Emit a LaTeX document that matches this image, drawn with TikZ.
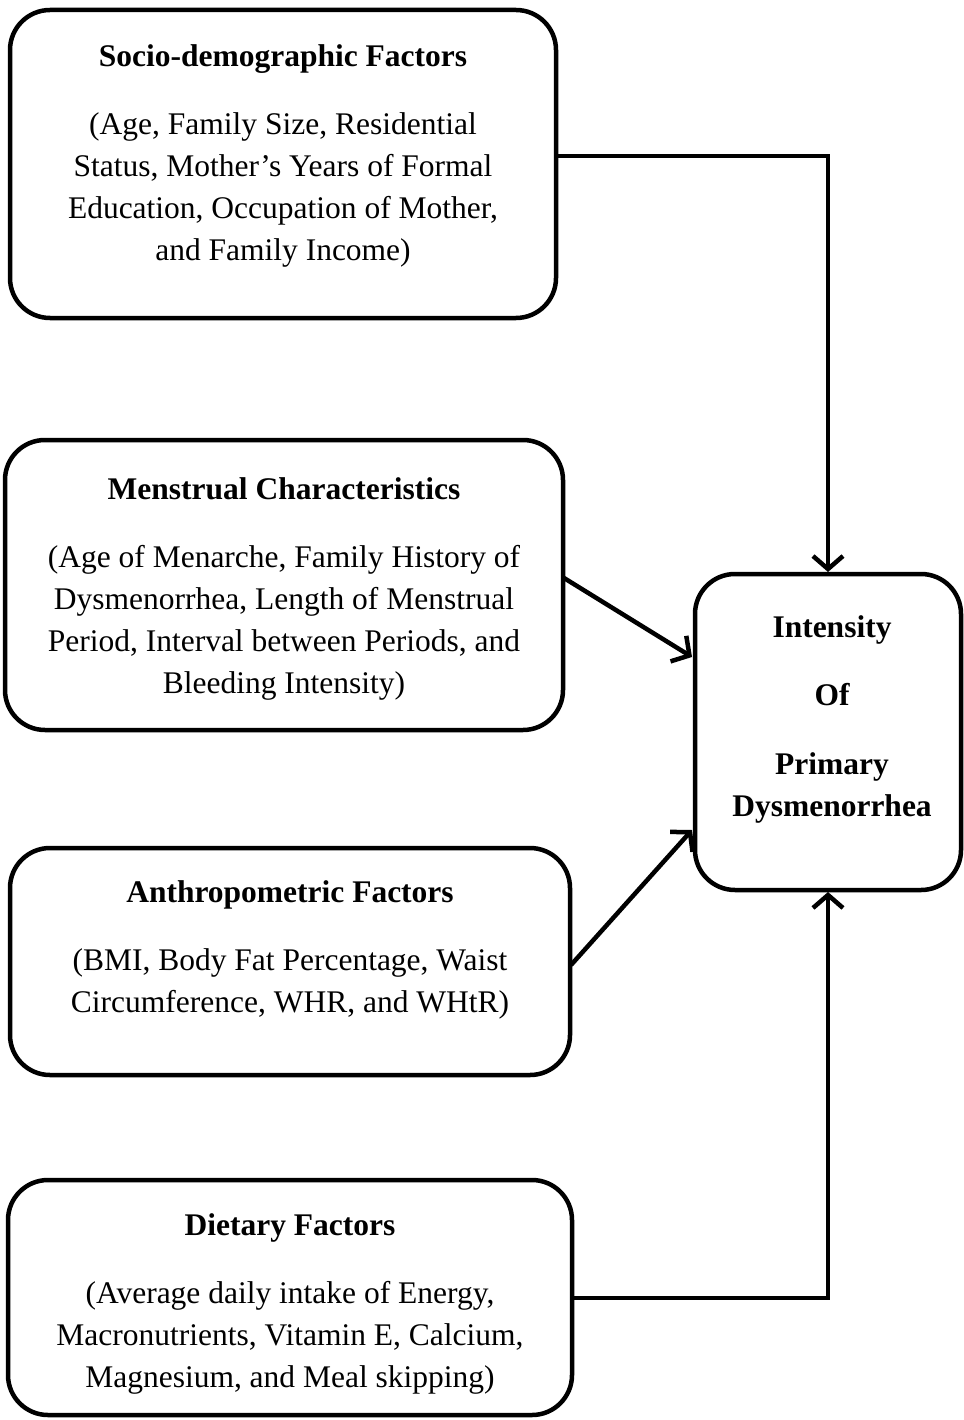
\documentclass[tikz,border=0pt]{standalone}
\usepackage{fontspec}
\setmainfont{Liberation Serif}
\usetikzlibrary{arrows.meta}
\begin{document}
\begin{tikzpicture}[x=1pt,y=-1pt,
  box/.style={draw, line width=4.5pt, rounded corners=40pt, anchor=north west, inner sep=0pt, outer sep=0pt},
  txt/.style={font=\fontsize{31.5}{42}\selectfont, align=center, inner sep=0pt, anchor=base},
  ttl/.style={font=\fontsize{31.5}{42}\selectfont\bfseries, align=center, inner sep=0pt, anchor=base},
  conn/.style={line width=4.5pt, -{Straight Barb[length=13pt,width=30pt]}}]
\useasboundingbox (0,0) rectangle (963,1420);
% boxes
\node[box, minimum width=546pt, minimum height=308pt] (soc) at (10,10) {};
\node[box, minimum width=558pt, minimum height=290pt] (men) at (5,440) {};
\node[box, minimum width=560pt, minimum height=227pt] (ant) at (10,848) {};
\node[box, minimum width=564pt, minimum height=235pt] (die) at (8,1180) {};
\node[box, minimum width=266pt, minimum height=316pt] (int) at (695,574) {};
% texts (multi-line nodes anchored at the baseline of their last line)
\node[ttl] (socT) at (283,67) {Socio-demographic Factors};
\node[txt] (socB) at (283,261) {(Age, Family Size, Residential\\Status, Mother’s Years of Formal\\Education, Occupation of Mother,\\and Family Income)};
\node[ttl] (menT) at (284,499) {Menstrual Characteristics};
\node[txt] (menB) at (284,693) {(Age of Menarche, Family History of\\Dysmenorrhea, Length of Menstrual\\Period, Interval between Periods, and\\Bleeding Intensity)};
\node[ttl] (antT) at (290,902) {Anthropometric Factors};
\node[txt] (antB) at (290,1012) {(BMI, Body Fat Percentage, Waist\\Circumference, WHR, and WHtR)};
\node[ttl] (dieT) at (290,1235) {Dietary Factors};
\node[txt] (dieB) at (290,1387) {(Average daily intake of Energy,\\Macronutrients, Vitamin E, Calcium,\\Magnesium, and Meal skipping)};
\node[ttl] (int1) at (832,637) {Intensity};
\node[ttl] (int2) at (832,705) {Of};
\node[ttl] (int3) at (832,816) {Primary\\Dysmenorrhea};
% connectors
\coordinate (socOut) at (556,156);
\coordinate (socBend) at (828,156);
\coordinate (intTop) at (828,572);
\draw[conn] (socOut) -- (socBend) -- (intTop);
\coordinate (menOut) at (564,578);
\coordinate (intL1) at (692,657);
\draw[conn] (menOut) -- (intL1);
\coordinate (antOut) at (571,965);
\coordinate (intL2) at (692,830);
\draw[conn] (antOut) -- (intL2);
\coordinate (dieOut) at (572,1298);
\coordinate (dieBend) at (828,1298);
\coordinate (intBot) at (828,892);
\draw[conn] (dieOut) -- (dieBend) -- (intBot);
\end{tikzpicture}
\end{document}
